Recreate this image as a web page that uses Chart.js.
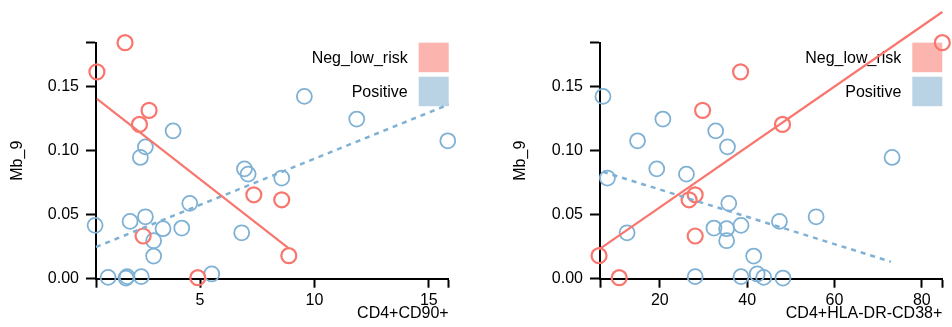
<!DOCTYPE html>
<html>
<head>
<meta charset="utf-8">
<script src="https://cdn.jsdelivr.net/npm/chart.js@4"></script>
<style>
  html, body { margin: 0; padding: 0; background: #fff; overflow: hidden; }
  #wrap { position: relative; width: 952px; height: 327px; }
  canvas { position: absolute; top: 0; }
  #left { left: 0; }
  #right { left: 476px; }
</style>
</head>
<body>
<div id="wrap">
  <canvas id="left" width="476" height="327"></canvas>
  <canvas id="right" width="476" height="327"></canvas>
</div>
<script>
// --- data ---
const groups = ["Neg_low_risk", "Positive"];

// Mb_9 per sample, shared by both panels
const negMb9 = [0.1845, 0.1617, 0.1316, 0.1206, 0.0656, 0.0617, 0.0334, 0.0180, 0.0008];
const posMb9 = [0.1425, 0.1248, 0.1078, 0.1156, 0.1031, 0.0948, 0.0859, 0.0818, 0.0787, 0.0589,
                0.0484, 0.0448, 0.0417, 0.0391, 0.0396, 0.0297, 0.0359, 0.0177, 0.0037, 0.0010,
                0.0005, 0.0016, 0.0016];

// x values, panel 1: CD4+CD90+
const negCD90 = [1.72, 0.49, 2.77, 2.35, 7.35, 8.57, 2.51, 8.88, 4.90];
const posCD90 = [9.56, 11.85, 15.83, 3.82, 2.61, 2.39, 6.94, 7.10, 8.57, 4.55,
                 2.61, 1.94, 0.41, 3.38, 4.20, 2.97, 6.82, 2.97, 5.51, 0.98,
                 1.76, 1.81, 2.43];

// x values, panel 2: CD4+HLA-DR-CD38+
const negHLA = [84.7, 38.5, 29.8, 48.1, 28.1, 26.7, 28.1, 6.08, 10.7];
const posHLA = [6.98, 20.7, 14.9, 32.8, 35.5, 73.2, 19.3, 26.1, 8.0, 35.8,
                55.8, 47.4, 38.6, 35.3, 32.4, 35.3, 12.5, 41.5, 42.3, 43.8,
                48.2, 28.1, 38.6];

// regression lines, end points
const negFitCD90X = [0.49, 8.88],  negFitCD90Y = [0.1406, 0.0237];
const posFitCD90X = [0.45, 15.87], posFitCD90Y = [0.0248, 0.1362];
const negFitHLAX  = [6.08, 84.7],  negFitHLAY  = [0.023, 0.2085];
const posFitHLAX  = [6.98, 72.9],  posFitHLAY  = [0.0836, 0.0133];

// tick labels
const yTicks = [0, 0.05, 0.10, 0.15];
const cd90Ticks = [5, 10, 15];
const hlaTicks = [20, 40, 60, 80];

// --- styles ---
const RED = "#f8766d";
const BLUE = "#7fb1d4";
const RED_BOX = "#fbb4ae";
const BLUE_BOX = "#b9d3e4";
const FONT = "'Liberation Sans', Arial, Helvetica, sans-serif";

const toPoints = (xs, ys) => xs.map((x, i) => ({ x: x, y: ys[i] }));

// legend drawn under the points
const boxLegend = {
  id: "boxLegend",
  beforeDatasetsDraw(chart) {
    const { ctx, chartArea } = chart;
    const colors = [RED_BOX, BLUE_BOX];
    const tops = [chartArea.top, chartArea.top + 34];
    ctx.save();
    ctx.font = "16px " + FONT;
    ctx.textAlign = "right";
    ctx.textBaseline = "middle";
    groups.forEach((g, i) => {
      const x0 = chartArea.right - 30;
      ctx.fillStyle = colors[i];
      ctx.fillRect(x0, tops[i], 30, 29.5);
      ctx.fillStyle = "#000";
      ctx.fillText(g, x0 - 11, tops[i] + 15.5);
    });
    ctx.restore();
  }
};

function makePanel(id, opts) {
  const ctx = document.getElementById(id).getContext("2d");
  return new Chart(ctx, {
    type: "scatter",
    data: {
      datasets: [
        {
          label: groups[1],
          data: toPoints(opts.posX, posMb9),
          borderColor: BLUE,
          backgroundColor: "transparent",
          pointRadius: 7.5,
          pointBorderWidth: 1.8,
          clip: false,
          order: 4
        },
        {
          label: groups[0],
          data: toPoints(opts.negX, negMb9),
          borderColor: RED,
          backgroundColor: "transparent",
          pointRadius: 7.5,
          pointBorderWidth: 2.2,
          clip: false,
          order: 3
        },
        {
          type: "line",
          label: "pos fit",
          data: toPoints(opts.posFitX, opts.posFitY),
          borderColor: BLUE,
          borderWidth: 2.5,
          borderDash: [5, 5],
          pointRadius: 0,
          fill: false,
          clip: false,
          order: 2
        },
        {
          type: "line",
          label: "neg fit",
          data: toPoints(opts.negFitX, opts.negFitY),
          borderColor: RED,
          borderWidth: 2.2,
          pointRadius: 0,
          fill: false,
          clip: false,
          order: 1
        }
      ]
    },
    options: {
      responsive: false,
      animation: false,
      events: [],
      layout: { padding: { top: 42.7, right: opts.padRight, left: 0, bottom: 0 } },
      plugins: { legend: { display: false }, tooltip: { enabled: false } },
      scales: {
        x: {
          type: "linear",
          min: opts.xMin,
          max: opts.xMax,
          afterFit: s => { s.height = 48.3; },
          afterBuildTicks: s => {
            s.ticks = [opts.xMin].concat(opts.xTicks, [opts.xMax]).map(v => ({ value: v }));
          },
          ticks: {
            autoSkip: false,
            maxRotation: 0,
            padding: 3,
            color: "#000",
            font: { family: FONT, size: 16 },
            callback: v => (opts.xTicks.includes(v) ? String(v) : "")
          },
          grid: {
            drawOnChartArea: false,
            drawTicks: true,
            tickLength: 9,
            tickWidth: 2,
            tickColor: "#000",
            color: "#000"
          },
          border: { display: true, color: "#000", width: 2 },
          title: {
            display: true,
            text: opts.xTitle,
            align: "end",
            color: "#000",
            font: { family: FONT, size: 16 },
            padding: { top: 0, bottom: 3.5 }
          }
        },
        y: {
          type: "linear",
          min: 0,
          max: 0.1845,
          afterFit: s => { s.width = opts.yWidth; },
          afterBuildTicks: s => {
            s.ticks = yTicks.concat([0.1845]).map(v => ({ value: v }));
          },
          ticks: {
            autoSkip: false,
            padding: 7,
            color: "#000",
            font: { family: FONT, size: 16 },
            callback: v => (yTicks.includes(v) ? v.toFixed(2) : "")
          },
          grid: {
            drawOnChartArea: false,
            drawTicks: true,
            tickLength: 10,
            tickWidth: 2,
            tickColor: "#000",
            color: "#000"
          },
          border: { display: true, color: "#000", width: 2 },
          title: {
            display: true,
            text: "Mb_9",
            color: "#000",
            font: { family: FONT, size: 16 },
            padding: { top: opts.yTitlePad, bottom: 0 }
          }
        }
      }
    },
    plugins: [boxLegend]
  });
}

makePanel("left", {
  negX: negCD90, posX: posCD90,
  negFitX: negFitCD90X, negFitY: negFitCD90Y,
  posFitX: posFitCD90X, posFitY: posFitCD90Y,
  xMin: 0.45, xMax: 15.87, xTicks: cd90Ticks,
  xTitle: "CD4+CD90+",
  yWidth: 96, padRight: 27.3, yTitlePad: 7.7
});

makePanel("right", {
  negX: negHLA, posX: posHLA,
  negFitX: negFitHLAX, negFitY: negFitHLAY,
  posFitX: posFitHLAX, posFitY: posFitHLAY,
  xMin: 6.3, xMax: 84.7, xTicks: hlaTicks,
  xTitle: "CD4+HLA-DR-CD38+",
  yWidth: 124, padRight: 2, yTitlePad: 35.4
});
</script>
</body>
</html>
